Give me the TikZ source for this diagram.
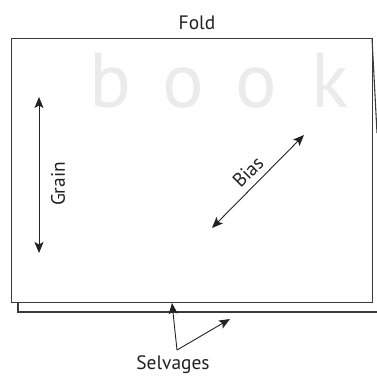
\documentclass[tikz,border=0pt]{standalone}
\usepackage{fontspec}
\setmainfont{PT Sans}
\usetikzlibrary{arrows.meta,positioning}
\definecolor{edgeg}{HTML}{3A3A3A}
\definecolor{markg}{HTML}{EBEBEB}
\definecolor{textg}{HTML}{222222}
\tikzset{
  cloth/.style={draw=edgeg, line width=1.1pt},
  lbl/.style={font=\fontsize{19.5}{21}\selectfont, text=textg, inner sep=0pt},
  wmark/.style={font=\fontsize{78}{80}\selectfont, text=markg, inner sep=0pt, anchor=base},
  dir/.style={{Stealth[length=11bp, width=9bp, inset=2.5bp]}-{Stealth[length=11bp, width=9bp, inset=2.5bp]}, line width=0.9pt, draw=textg},
  ptr/.style={-{Stealth[length=11bp, width=9bp, inset=2.5bp]}, line width=0.9pt, draw=textg},
}

\begin{document}
\begin{tikzpicture}[x=1bp, y=-1bp]
  \useasboundingbox (0,0) rectangle (377,376);
  % faint watermark
  \node[wmark] (wb) at (110,107) {b};
  \node[wmark] (wo1) at (183,107) {o};
  \node[wmark] (wo2) at (256,107) {o};
  \node[wmark] (wk) at (330,107) {k};
  % under layer of the folded cloth
  \coordinate (lowl) at (18,302);
  \coordinate (lowc) at (18,312);
  \coordinate (lowr) at (377,312);
  \draw[cloth] (lowl) -- (lowc) -- (lowr);
  \coordinate (edgetop) at (372,38);
  \coordinate (edgebot) at (377,133);
  \draw[cloth] (edgetop) -- (edgebot);
  % top layer
  \node[cloth, anchor=north west, minimum width=361bp, minimum height=264bp, inner sep=0pt] (sheet) at (11,38) {};
  \node[lbl] (fold) at (197,23) {Fold};
  % grain
  \coordinate (gtop) at (39,97);
  \coordinate (gbot) at (39,253);
  \draw[dir] (gtop) -- (gbot);
  \node[lbl, rotate=90] (grain) at (58,184) {Grain};
  % bias
  \coordinate (bsw) at (212,228);
  \coordinate (bne) at (304,135);
  \draw[dir] (bsw) -- (bne);
  \node[lbl, rotate=45] (bias) at (248,172) {Bias};
  % selvages
  \node[lbl] (selv) at (173,365) {Selvages};
  \coordinate (selv0) at (177,350);
  \coordinate (selvA) at (172,303);
  \coordinate (selvB) at (230,319);
  \draw[ptr] (selv0) -- (selvA);
  \draw[ptr] (selv0) -- (selvB);
\end{tikzpicture}
\end{document}
